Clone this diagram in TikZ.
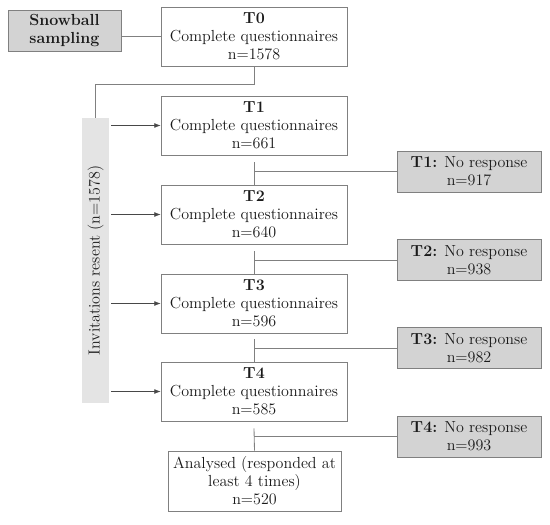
\documentclass[tikz,border=0pt]{standalone}
\usepackage{tikz}
\usetikzlibrary{arrows.meta, positioning, calc}
\usepackage{xcolor}
\definecolor{boxline}{HTML}{808080}
\definecolor{darkfill}{HTML}{D3D3D3}
\definecolor{barfill}{HTML}{E4E4E4}
\definecolor{txt}{HTML}{1A1A1A}

\begin{document}
\begin{tikzpicture}[
    x=0.025cm, y=-0.025cm,
    every node/.style={font=\fontsize{11.4}{12.8}\selectfont, text=txt},
    wave/.style={draw=boxline, fill=white, inner sep=2pt,
                 minimum width=4.65cm, minimum height=1.475cm, align=center},
    drop/.style={draw=boxline, fill=darkfill, inner sep=2pt,
                 minimum width=3.6cm, minimum height=1.025cm, align=center},
    link/.style={draw=boxline, line width=0.6pt},
    arr/.style={draw=txt!80, line width=0.4pt, -{Latex[length=1.6mm, width=1.2mm]}}
]
    \useasboundingbox (0,0) rectangle (550,524);

    % Start
    \node[drop, minimum width=2.825cm] (snow) at (64.5,30.5) {\textbf{Snowball}\\\textbf{sampling}};
    \node[wave] (t0) at (254,36.5) {\textbf{T0}\\Complete questionnaires\\n=1578};

    % Waves
    \node[wave] (t1) at (254,125.5) {\textbf{T1}\\Complete questionnaires\\n=661};
    \node[wave] (t2) at (254,214.5) {\textbf{T2}\\Complete questionnaires\\n=640};
    \node[wave] (t3) at (254,303.5) {\textbf{T3}\\Complete questionnaires\\n=596};
    \node[wave] (t4) at (254,391.5) {\textbf{T4}\\Complete questionnaires\\n=585};
    \node[wave, minimum width=4.325cm, minimum height=1.5cm] (res) at (254.5,481)
        {Analysed (responded at\\least 4 times)\\n=520};

    % Drop-outs
    \node[drop] (nr1) at (469,171.5) {\textbf{T1:} No response\\n=917};
    \node[drop] (nr2) at (469,260) {\textbf{T2:} No response\\n=938};
    \node[drop] (nr3) at (469,348) {\textbf{T3:} No response\\n=982};
    \node[drop] (nr4) at (469,436.5) {\textbf{T4:} No response\\n=993};

    % Reminder bar
    \node[fill=barfill, minimum width=7.125cm, minimum height=0.675cm, inner sep=0pt,
          rotate=90] (inv) at (95.5,260.5) {Invitations resent (n=1578)};
    \coordinate (invr) at ($(inv.south)+(2,0)$);

    \draw[link] (t0.west) -- (t0.west -| snow.east);
    \draw[link] (t0.south) -- ++(0,18) -| (inv.east);

    \draw[arr] (invr |- t1.west) -- (t1.west);
    \draw[arr] (invr |- t2.west) -- (t2.west);
    \draw[arr] (invr |- t3.west) -- (t3.west);
    \draw[arr] (invr |- t4.west) -- (t4.west);

    \draw[link] ($(t1.south)+(0,7)$) -- (t2.north);
    \draw[link] (t1.south |- nr1.west) -- (nr1.west);
    \draw[link] ($(t2.south)+(0,7)$) -- (t3.north);
    \draw[link] (t2.south |- nr2.west) -- (nr2.west);
    \draw[link] ($(t3.south)+(0,6)$) -- (t4.north);
    \draw[link] (t3.south |- nr3.west) -- (nr3.west);
    \draw[link] ($(t4.south)+(0,7)$) -- (res.north);
    \draw[link] (t4.south |- nr4.west) -- (nr4.west);
\end{tikzpicture}
\end{document}
